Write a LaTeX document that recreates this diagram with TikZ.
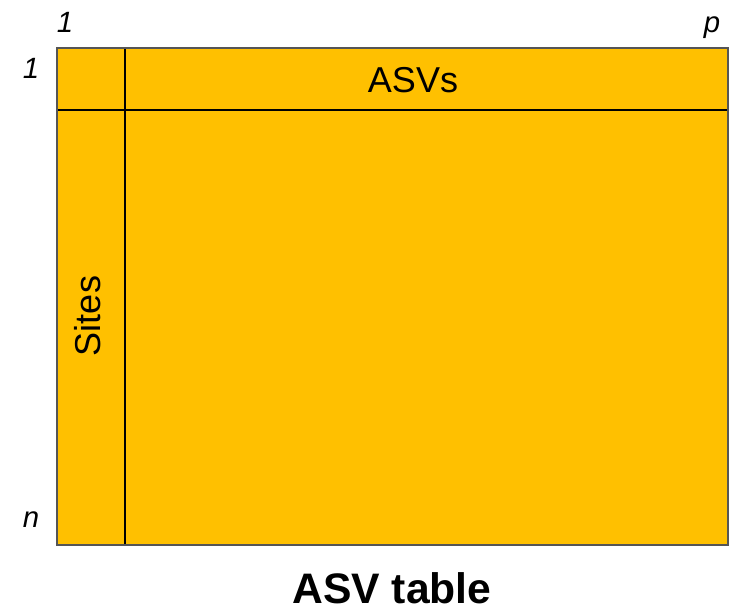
\documentclass[tikz,border=0pt]{standalone}
\usepackage{fontspec}
\setmainfont{Liberation Sans}
\definecolor{tablefill}{RGB}{255,192,0}
\definecolor{frame}{RGB}{85,85,85}
\tikzset{
  idx/.style={font=\fontsize{22pt}{26pt}\selectfont\itshape, anchor=base, inner sep=0pt},
  head/.style={font=\fontsize{27pt}{32pt}\selectfont, anchor=base, inner sep=0pt},
  divider/.style={line width=1.6pt, black},
}
\begin{document}
\begin{tikzpicture}[x=0.75pt,y=-0.75pt]
\useasboundingbox (0,0) rectangle (740,613);
% corners of the table
\coordinate (tl) at (57,48);
\coordinate (br) at (728,545);
\fill[tablefill] (tl) rectangle (br);
% header row and index column
\draw[divider] (125,48) -- (125,545);
\draw[divider] (57,110) -- (728,110);
\draw[frame, line width=1.6pt] (tl) rectangle (br);
% labels
\node[head] (asvs) at (413,93) {ASVs};
\node[head, rotate=90] (sites) at (100,316) {Sites};
\node[idx] (c1) at (65,33) {1};
\node[idx] (cp) at (712,33) {p};
\node[idx] (r1) at (31,79) {1};
\node[idx] (rn) at (31,527) {n};
\node[font=\fontsize{32pt}{38pt}\selectfont\bfseries, anchor=base, inner sep=0pt] (title) at (392,603) {ASV table};
\end{tikzpicture}
\end{document}
